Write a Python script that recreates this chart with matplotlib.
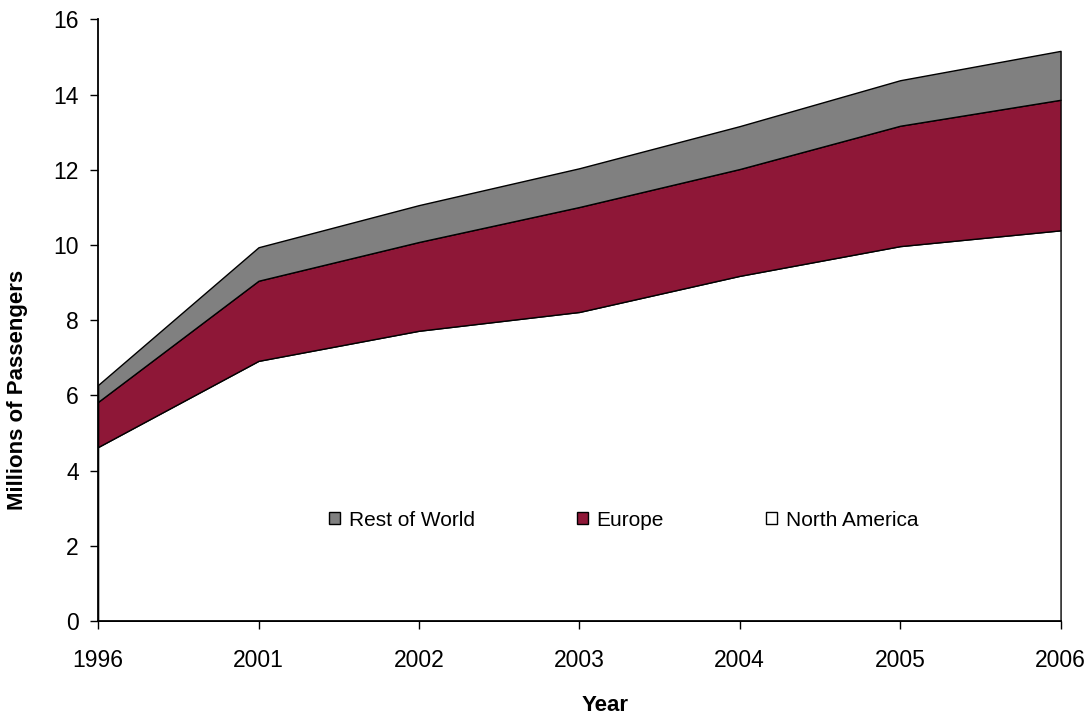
import numpy as np
import matplotlib.pyplot as plt
from matplotlib.patches import Patch

plt.rcParams['font.family'] = ['Liberation Sans', 'DejaVu Sans']

years = ['1996', '2001', '2002', '2003', '2004', '2005', '2006']
north_america = [4.63, 6.92, 7.72, 8.22, 9.18, 9.97, 10.39]
europe_top = [5.83, 9.05, 10.08, 11.01, 12.02, 13.17, 13.86]
world_top = [6.28, 9.94, 11.06, 12.04, 13.16, 14.38, 15.16]

x = np.arange(len(years))
na = np.array(north_america)
eu = np.array(europe_top)
rw = np.array(world_top)

fig = plt.figure(figsize=(10.9, 7.14), dpi=100)
ax = fig.add_axes([0.09, 0.13, 0.883, 0.843])

ax.fill_between(x, 0, na, facecolor='white', edgecolor='black', linewidth=1.0)
ax.fill_between(x, na, eu, facecolor='#8e1737', edgecolor='black', linewidth=1.0)
ax.fill_between(x, eu, rw, facecolor='#808080', edgecolor='black', linewidth=1.0)

ax.set_xlim(0, len(years) - 1)
ax.set_ylim(0, 16)
ax.set_xticks(x)
ax.set_xticklabels(years)
ax.set_yticks(range(0, 17, 2))
ax.tick_params(axis='both', labelsize=16.5, length=6, width=1, direction='out')
ax.tick_params(axis='x', pad=14)
ax.tick_params(axis='y', pad=8)
ax.spines['top'].set_visible(False)
ax.spines['right'].set_visible(False)
ax.spines['left'].set_linewidth(1.3)
ax.spines['bottom'].set_linewidth(1.3)

ax.set_xlabel('Year', fontsize=16, fontweight='bold')
ax.xaxis.set_label_coords(0.527, -0.122)
ax.set_ylabel('Millions of Passengers', fontsize=16, fontweight='bold')
ax.yaxis.set_label_coords(-0.073, 0.385)

handles = [
    Patch(facecolor='#808080', edgecolor='black', label='Rest of World'),
    Patch(facecolor='#8e1737', edgecolor='black', label='Europe'),
    Patch(facecolor='white', edgecolor='black', label='North America'),
]
ax.legend(handles=handles, loc='center', bbox_to_anchor=(0.546, 0.168), ncol=3,
          frameon=False, fontsize=15, handlelength=0.55, handleheight=0.55,
          handletextpad=0.4, columnspacing=4.9)

fig.savefig('out.png', dpi=100)
